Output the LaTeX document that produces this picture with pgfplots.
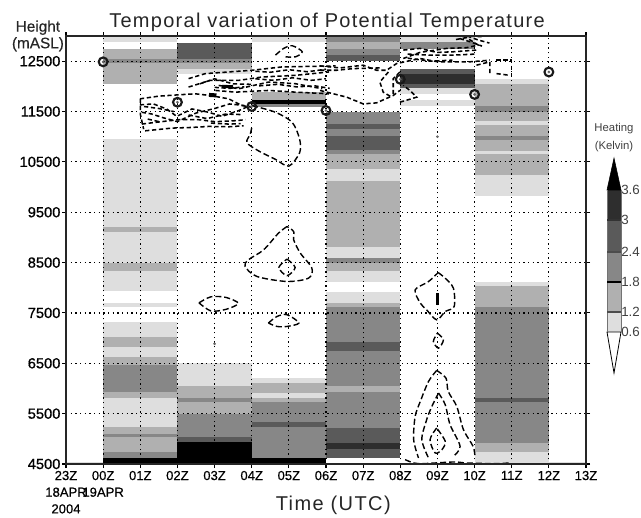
\documentclass[border=0pt]{standalone}
\usepackage{fontspec}
\setmainfont{Liberation Sans}
\usepackage{pgfplots}
\pgfplotsset{compat=1.18}
\definecolor{g1}{HTML}{DEDEDE}
\definecolor{g2}{HTML}{B0B0B0}
\definecolor{g3}{HTML}{878787}
\definecolor{g4}{HTML}{5A5A5A}
\definecolor{g5}{HTML}{2E2E2E}
\definecolor{g6}{HTML}{000000}
% x0 x1 y0 y1 colour
\newcommand{\band}[5]{\addplot[fill=#5, draw=none, forget plot] coordinates {(#1,#3)(#2,#3)(#2,#4)(#1,#4)} -- cycle;}
\newcommand{\contour}[1]{\addplot[black, line width=1.05pt, dash pattern=on 4.5pt off 2.2pt, smooth, tension=0.5, forget plot] coordinates {#1};}
% the tangled contours near the top are shorter and rougher
\newcommand{\tangle}[1]{\addplot[black, line width=1.15pt, dash pattern=on 3.2pt off 2pt, forget plot] coordinates {#1};}
\begin{document}
\begin{tikzpicture}
\path[use as bounding box] (0pt,0pt) rectangle (480.75pt,387.75pt);
\begin{axis}[
  name=main, at={(49.5pt,39.75pt)}, anchor=south west,
  scale only axis, width=390pt, height=321pt,
  xmin=-1, xmax=13, ymin=4500, ymax=13000,
  clip=false, axis on top,
  axis line style={line width=1.1pt, color=black!85},
  tick style={line width=0.8pt, color=black},
  tick align=outside, major tick length=3pt,
  scaled y ticks=false,
  xtick={-1,0,...,13},
  xticklabels={{23Z\\18APR\\2004},{00Z\\19APR},01Z,02Z,03Z,04Z,05Z,06Z,07Z,08Z,09Z,10Z,11Z,12Z,13Z},
  x tick label style={align=center, font=\fontsize{9.8}{12.5}\selectfont\addfontfeature{FakeBold=0.5}, anchor=north, inner sep=1pt, yshift=-1pt},
  ytick={4500,5500,6500,7500,8500,9500,10500,11500,12500},
  yticklabels={4500,5500,6500,7500,8500,9500,10500,11500,12500},
  y tick label style={font=\fontsize{11}{13}\selectfont\addfontfeature{FakeBold=0.8}, inner sep=1pt},
  grid=major,
  grid style={line width=0.9pt, color=black, dash pattern=on 0.9pt off 2.6pt},
  title={\addfontfeature{LetterSpace=6.4}Temporal variation of Potential Temperature},
  title style={at={(axis description cs:0.502,1.037)}, anchor=center, yshift=-7.5pt, font=\fontsize{15}{18}\selectfont, color=black!85},
  xlabel={\addfontfeature{LetterSpace=7}Time (UTC)},
  xlabel style={at={(axis description cs:0.514,-0.09)}, anchor=center, yshift=-2pt, font=\fontsize{15}{18}\selectfont, color=black!85},
]
% 00Z-02Z
\band{0}{2}{12874}{13000}{g1}
\band{0}{2}{12052}{12740}{g2}
\band{0}{2}{12460}{12540}{g3}
\band{0}{2}{9213}{10950}{g1}
\band{0}{2}{9113}{9213}{g2}
\band{0}{2}{8500}{9113}{g1}
\band{0}{2}{8341}{8500}{g2}
\band{0}{2}{7945}{8341}{g1}
\band{0}{2}{7627}{7694}{g1}
\band{0}{2}{7019}{7330}{g1}
\band{0}{2}{6814}{7019}{g2}
\band{0}{2}{6623}{6814}{g1}
\band{0}{2}{6470}{6623}{g2}
\band{0}{2}{5922}{6470}{g3}
\band{0}{2}{5810}{5922}{g2}
\band{0}{2}{5228}{5810}{g1}
\band{0}{2}{5102}{5228}{g2}
\band{0}{2}{5030}{5102}{g3}
\band{0}{2}{4739}{5030}{g2}
\band{0}{2}{4620}{4739}{g3}
\band{0}{2}{4500}{4620}{g6}
% 02Z-04Z
\band{2}{4}{12553}{12854}{g4}
\band{2}{4}{12460}{12553}{g3}
\band{2}{4}{12350}{12460}{g2}
\band{2}{4}{12250}{12350}{g1}
\band{2}{4}{6041}{6497}{g1}
\band{2}{4}{5810}{6041}{g2}
\band{2}{4}{5724}{5810}{g3}
\band{2}{4}{5500}{5724}{g2}
\band{2}{4}{5030}{5500}{g3}
\band{2}{4}{4930}{5030}{g4}
\band{2}{4}{4500}{4930}{g6}
% 04Z-06Z
\band{4}{6}{12880}{13000}{g1}
\band{4}{6}{11738}{11885}{g2}
\band{4}{6}{11645}{11738}{g6}
\band{4}{6}{11585}{11645}{g3}
\band{4}{6}{6107}{6206}{g1}
\band{4}{6}{5909}{6107}{g2}
\band{4}{6}{5810}{5909}{g1}
\band{4}{6}{5724}{5810}{g2}
\band{4}{6}{5327}{5724}{g3}
\band{4}{6}{5228}{5327}{g4}
\band{4}{6}{4620}{5228}{g3}
\band{4}{6}{4500}{4620}{g6}
% 06Z-08Z
\band{6}{8}{12874}{13000}{g3}
\band{6}{8}{12740}{12874}{g2}
\band{6}{8}{12620}{12740}{g3}
\band{6}{8}{12500}{12620}{g4}
\band{6}{8}{11250}{11485}{g3}
\band{6}{8}{11150}{11250}{g4}
\band{6}{8}{11017}{11150}{g3}
\band{6}{8}{10736}{11017}{g4}
\band{6}{8}{10650}{10736}{g3}
\band{6}{8}{10350}{10650}{g2}
\band{6}{8}{10115}{10350}{g1}
\band{6}{8}{8813}{10115}{g2}
\band{6}{8}{8600}{8813}{g1}
\band{6}{8}{8500}{8600}{g3}
\band{6}{8}{8341}{8500}{g2}
\band{6}{8}{8123}{8341}{g1}
\band{6}{8}{7694}{7925}{g1}
\band{6}{8}{7614}{7694}{g2}
\band{6}{8}{6914}{7614}{g3}
\band{6}{8}{6748}{6914}{g4}
\band{6}{8}{6041}{6748}{g3}
\band{6}{8}{5922}{6041}{g2}
\band{6}{8}{5215}{5922}{g3}
\band{6}{8}{4917}{5215}{g4}
\band{6}{8}{4805}{4917}{g5}
\band{6}{8}{4620}{4805}{g4}
% 08Z-10Z
\band{8}{10}{12874}{13000}{g1}
\band{8}{10}{12740}{12874}{g3}
\band{8}{10}{12253}{12340}{g4}
\band{8}{10}{12052}{12253}{g5}
\band{8}{10}{11966}{12052}{g4}
\band{8}{10}{11850}{11966}{g1}
\band{8}{10}{11618}{11738}{g1}
% 10Z-12Z
\band{10}{12}{12052}{12153}{g1}
\band{10}{12}{11605}{12052}{g2}
\band{10}{12}{11500}{11605}{g3}
\band{10}{12}{11318}{11500}{g2}
\band{10}{12}{11237}{11318}{g1}
\band{10}{12}{11017}{11237}{g2}
\band{10}{12}{10937}{11017}{g3}
\band{10}{12}{10716}{10937}{g2}
\band{10}{12}{10650}{10716}{g1}
\band{10}{12}{10236}{10650}{g2}
\band{10}{12}{9828}{10236}{g1}
\band{10}{12}{8037}{8110}{g1}
\band{10}{12}{7627}{8037}{g2}
\band{10}{12}{5810}{7627}{g3}
\band{10}{12}{5724}{5810}{g4}
\band{10}{12}{4917}{5724}{g3}
\band{10}{12}{4739}{4917}{g2}
\band{10}{12}{4520}{4739}{g1}
% thin strip along the bottom
\band{-1}{0}{4500}{4540}{g1}
\band{12}{13}{4500}{4540}{g1}
% contours, messy area 01Z-04Z
\tangle{(0.99,11752)(1.49,11805)(2.03,11832)(2.48,11852)(2.88,11819)(3.38,11752)(3.74,11618)(4.01,11585)}
\tangle{(0.99,11632)(1.35,11652)(1.71,11551)(1.98,11404)(2.39,11551)(2.84,11485)(3.2,11404)(3.65,11518)(3.96,11618)}
\tangle{(1.04,11485)(1.31,11451)(1.6,11380)(2.0,11300)(2.5,11470)(3.0,11560)(3.4,11650)(3.8,11620)}
\tangle{(1.04,11251)(1.4,11284)(2.03,11338)(2.57,11338)(3.02,11298)(3.56,11318)(3.83,11338)}
\tangle{(1.13,11117)(1.85,11171)(2.39,11184)(2.84,11204)(3.38,11197)(3.78,11217)}
\tangle{(1.0,11752)(1.0,11450)(1.09,11150)}
\tangle{(1.1,11600)(1.5,11560)(1.9,11500)}
\tangle{(2.3,11430)(2.8,11360)(3.3,11450)(3.7,11440)}
\tangle{(2.9,11270)(3.4,11250)(3.7,11260)}
\tangle{(1.2,11350)(1.5,11300)}
\tangle{(2.3,12153)(2.75,12253)(3.38,12286)(4.01,12320)(4.82,12386)(6.26,12406)}
\tangle{(2.3,11986)(2.88,12119)(3.65,12119)(4.28,12186)(5.18,12219)(6.08,12286)}
\tangle{(3.11,12019)(3.65,11952)(4.46,12086)(5.18,12052)(5.9,11952)}
\tangle{(3.02,11919)(3.56,11885)(4.46,11919)(5.18,11885)(6.08,11852)}
\tangle{(4.1,12300)(4.5,12280)(5.0,12330)(5.5,12290)(6.0,12340)}
\tangle{(4.1,12150)(4.6,12120)(5.1,12170)(5.6,12120)(6.0,12150)}
\tangle{(4.2,12010)(4.7,12040)(5.2,11990)(5.7,12010)(6.1,11960)}
\tangle{(2.6,12050)(3.0,12150)(3.5,12050)(4.0,12040)}
\tangle{(3.0,11980)(3.4,11960)(3.8,11990)}
\addplot[black, line width=3pt, forget plot] coordinates {(2.85,11830)(3.05,11820)};
\addplot[black, line width=2.4pt, forget plot] coordinates {(3.2,12000)(3.5,11990)};
\contour{(4.64,12620)(4.86,12754)(5.09,12807)(5.36,12687)(5.18,12587)(4.91,12587)}
% loop under 05Z
\contour{(4.01,11618)(4.64,11485)(5.09,11284)(5.29,10950)(5.29,10683)(5,10416)(4.64,10550)(4.19,10716)(3.87,10883)(3.96,11050)(4.01,11217)}
% messy area 06Z-11Z
\tangle{(5.84,12406)(6.38,12366)(7,12420)(7.36,12320)(7.63,12320)(7.9,12453)(8.53,12553)(9.01,12487)(9.87,12487)(10.41,12520)}
\tangle{(5.84,12320)(6.29,12320)(6.74,12353)(7.45,12366)}
\tangle{(7.68,12286)(7.45,12086)(7.54,11885)(7.77,11785)}
\tangle{(7.99,12286)(7.81,12153)(7.81,11852)}
\tangle{(5.84,11919)(6.2,11852)(6.56,11785)(7,11652)(7.36,11672)(7.81,11819)(7.99,11919)}
\tangle{(7.99,11685)(8.44,11785)(8.26,11919)(8.08,12019)}
\tangle{(8.08,12720)(8.53,12754)(8.98,12674)(9.43,12687)(10.05,12720)}
\tangle{(8.08,12553)(8.53,12674)(9.25,12754)(9.78,12767)(10.1,12820)(9.78,12968)(9.43,12921)}
\tangle{(9.7,13000)(10.23,12987)}
\tangle{(9.6,12950)(9.9,12880)(10.2,12800)}
\tangle{(9.8,13000)(10.1,12920)(10.4,12860)}
\tangle{(8.2,12640)(8.8,12620)(9.4,12620)(10,12640)}
\tangle{(8.2,12560)(8.8,12500)(9.4,12520)}
\tangle{(10.05,12420)(10.41,12487)(10.41,12253)}
\tangle{(10.59,12520)(11,12520)(11,12153)}
\tangle{(10.59,12253)(10.95,12219)}
% closed contours 03Z-05Z, 8500 m
\contour{(4.95,9216)(4.72,9084)(4.32,8753)(3.91,8555)(3.82,8423)(4.14,8224)(4.95,8125)(5.53,8191)(5.62,8390)(5.31,8687)(5.13,8951)(5.13,9117)(4.95,9216)}
\contour{(4.95,8570)(5.17,8403)(4.95,8240)(4.73,8403)(4.95,8570)}
\contour{(2.58,7700)(2.9,7820)(3.3,7810)(3.64,7690)(3.3,7570)(2.9,7540)(2.58,7700)}
\contour{(4.45,7300)(4.68,7430)(4.95,7465)(5.27,7300)(4.95,7232)(4.68,7232)(4.45,7300)}
% closed contours 09Z
\contour{(9.02,8302)(9.21,8189)(9.43,7991)(9.45,7627)(9.21,7528)(8.98,7363)(8.71,7561)(8.54,7694)(8.4,7958)(8.76,8123)(9.02,8302)}
\addplot[black, line width=1.6pt, forget plot] coordinates {(9,7892)(9,7660)};
\contour{(9,7099)(9.16,6966)(9.03,6801)(8.89,6933)(9,7099)}
\contour{(8.98,6358)(9.23,6206)(9.29,5942)(9.52,5644)(9.7,5182)(9.96,4851)(10.01,4653)}
\contour{(8.98,6358)(8.76,6140)(8.54,5744)(8.4,5446)(8.36,4983)(8.49,4620)}
\contour{(9.03,5909)(8.85,5644)(8.71,5380)(8.58,4983)(8.76,4620)}
\contour{(9.03,5909)(9.21,5678)(9.34,5281)(9.61,4851)(9.43,4653)}
\contour{(8.98,5215)(8.8,4983)(8.94,4719)(9.12,4785)(9.21,4950)(8.98,5215)}
\contour{(8.13,4587)(8.36,4521)(8.63,4508)(9.43,4540)(9.79,4520)(10.5,4508)(10.95,4520)}
% small rings and dots
\addplot[only marks, mark=o, mark size=3.3pt, mark options={line width=1.6pt, color=black!90}, forget plot]
  coordinates {(0,12487)(2,11685)(4,11600)(6,11520)(8,12140)(10,11840)(12,12285)};
\addplot[only marks, mark=*, mark size=0.8pt, mark options={color=black!60}, forget plot]
  coordinates {(0,12487)(2,11685)(4,11600)(6,11520)(8,12140)(10,11840)(12,12285)(3,6887)(9,11000)};
\node[align=center, font=\fontsize{11.5}{12.5}\selectfont\addfontfeature{FakeBold=0.4}, color=black!85] at (axis description cs:-0.054,1.0) {Height\\(mASL)};
\end{axis}
% colour key, y = 373 - pixel row
\begin{axis}[
  at={(455.25pt,108pt)}, anchor=south west,
  scale only axis, width=10.5pt, height=161.25pt,
  xmin=0, xmax=14, ymin=0, ymax=215,
  clip=false, axis line style={draw=none},
  xtick=\empty, ytick={41,61,91,121,153,183},
  yticklabels={0.6,1.2,1.8,2.4,3,3.6},
  yticklabel pos=right, tick style={draw=none},
  y tick label style={font=\fontsize{10}{12}\selectfont, color=black!75, inner sep=1pt, anchor=west, xshift=-1pt},
]
\band{0}{14}{41}{61}{g1}
\band{0}{14}{61}{91}{g2}
\band{0}{14}{91}{121}{g3}
\band{0}{14}{121}{153}{g4}
\band{0}{14}{153}{183}{g5}
\addplot[fill=black, draw=black, forget plot] coordinates {(0,183)(7,215)(14,183)} -- cycle;
\addplot[fill=white, draw=black, line width=0.6pt, forget plot] coordinates {(0,41)(7,0)(14,41)} -- cycle;
\addplot[black!55, line width=0.7pt, forget plot] coordinates {(0,183)(0,41)};
\addplot[black!55, line width=0.7pt, forget plot] coordinates {(14,183)(14,41)};
\addplot[black!70, line width=0.8pt, forget plot] coordinates {(0,61)(14,61)};
\addplot[black, line width=0.8pt, forget plot] coordinates {(0,91)(14,91)};
\addplot[black!70, line width=0.8pt, forget plot] coordinates {(0,121)(14,121)};
\addplot[black!80, line width=0.8pt, forget plot] coordinates {(0,153)(14,153)};
\node[align=center, font=\fontsize{8.5}{13.5}\selectfont, color=black!75] at (axis cs:7,235) {Heating\\(Kelvin)};
\end{axis}
\end{tikzpicture}
\end{document}
